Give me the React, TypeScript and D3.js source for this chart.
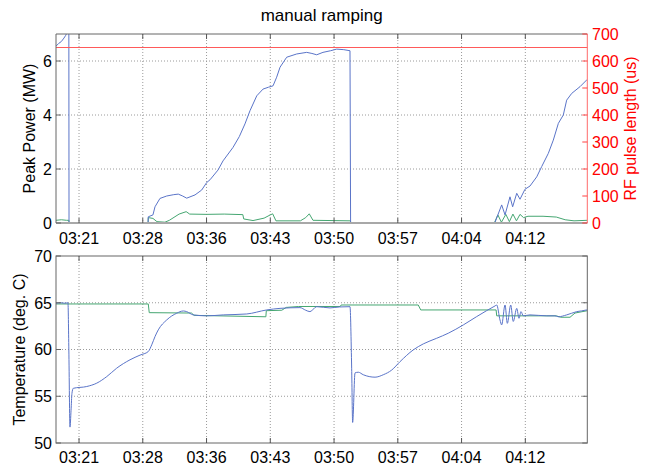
import React from "react";
import * as d3 from "d3";

const W = 647;
const H = 472;
const font = "'Liberation Sans', Arial, Helvetica, sans-serif";

// time axis (clock time)
const timeDomain = ["03:19:00", "04:19:00"];
const timeTicks = ["03:21:36", "03:28:48", "03:36:00", "03:43:12", "03:50:24", "03:57:36", "04:04:48", "04:12:00"];

const powerTicks = [0, 2, 4, 6];
const pulseTicks = [0, 100, 200, 300, 400, 500, 600, 700];
const tempTicks = [50, 55, 60, 65, 70];

// [minutes after 03:00, MW]
const forwardPower: [number, number][] = [
  [19.0, 6.55], [19.3, 6.65], [19.6, 6.72], [19.9, 6.85], [20.1, 6.95], [20.3, 7.1], [20.45, 7.4], [20.47, 0],
  [29.4, 0], [29.42, 0.23], [29.95, 0.3], [30.18, 0.6], [30.74, 0.91], [31.5, 1.0], [32.3, 1.05], [32.81, 1.07],
  [33.3, 1.0], [33.76, 0.92], [34.7, 1.04], [35.45, 1.22], [36.02, 1.5], [36.39, 1.6], [37.29, 1.96], [37.86, 2.3],
  [38.99, 2.8], [39.7, 3.2], [40.34, 3.67], [40.91, 4.16], [41.67, 4.71], [42.38, 4.96], [43.0, 5.03], [43.51, 5.08],
  [43.92, 5.4], [44.3, 5.77], [45.05, 6.14], [46.18, 6.26], [47.31, 6.32], [47.9, 6.28], [48.44, 6.23], [49.15, 6.32],
  [50.0, 6.38], [50.7, 6.44], [51.5, 6.42], [52.2, 6.38], [52.27, 0],
  [68.55, 0], [69.33, 0.67], [69.71, 0.3], [70.27, 0.97], [70.57, 0.6], [71.03, 1.1], [71.4, 0.88], [71.96, 1.25],
  [72.53, 1.37], [73.29, 1.71], [73.85, 2.09], [74.6, 2.58], [75.16, 3.07], [75.73, 3.69], [76.29, 4.0], [76.67, 4.55],
  [77.24, 4.8], [78.18, 5.05], [79.0, 5.32],
];

const reflectedPower: [number, number][] = [
  [19.0, 0.1], [19.6, 0.12], [20.2, 0.1], [20.46, 0.1], [20.47, 0], [29.4, 0], [29.42, 0.2], [29.95, 0.17],
  [30.4, 0.05], [31.3, 0.03], [31.8, 0.1], [32.9, 0.33], [33.7, 0.42], [34.1, 0.33], [36.0, 0.32], [38.0, 0.33],
  [40.1, 0.31], [40.2, 0.15], [41.25, 0.09], [42.5, 0.18], [43.2, 0.3], [43.47, 0.34], [43.84, 0.08], [46.6, 0.08],
  [47.2, 0.2], [47.6, 0.34], [48.02, 0.1], [52.26, 0.08], [52.27, 0], [68.5, 0], [68.9, 0.3], [69.3, 0.03],
  [69.8, 0.32], [70.2, 0.05], [70.6, 0.33], [71.0, 0.08], [71.4, 0.32], [71.8, 0.2], [72.3, 0.25], [74.0, 0.25],
  [75.5, 0.22], [76.5, 0.12], [77.5, 0.08], [79.0, 0.1],
];

// [minutes after 03:00, us]
const pulseLength: [number, number][] = [[19.0, 650], [79.0, 650]];

// [minutes after 03:00, deg C]
const cavityTemp: [number, number][] = [
  [19.0, 64.95], [19.5, 65.0], [20.0, 64.95], [20.35, 65.0], [20.45, 60.0], [20.58, 51.7], [20.7, 53.5], [20.8, 55.3],
  [20.95, 55.85], [22.47, 56.04], [23.6, 56.4], [24.73, 57.1], [25.85, 58.0], [27.36, 58.9], [28.49, 59.4], [29.42, 59.78],
  [29.81, 60.5], [30.18, 61.38], [30.55, 62.1], [31.5, 63.16], [32.63, 63.88], [33.38, 64.12], [33.76, 64.05], [34.5, 63.7],
  [36.02, 63.6], [37.89, 63.7], [40.54, 63.8], [42.79, 64.23], [44.3, 64.4], [46.55, 64.48], [47.2, 64.2], [47.68, 64.05],
  [48.44, 64.58], [49.94, 64.45], [51.0, 64.55], [52.2, 64.58], [52.39, 58.0], [52.5, 52.2], [52.77, 57.5], [53.14, 57.57],
  [53.7, 57.3], [55.03, 57.04], [55.96, 57.3], [56.91, 57.8], [57.85, 58.7], [59.35, 59.96], [60.48, 60.6], [61.99, 61.2],
  [63.3, 61.74], [65.0, 62.63], [66.51, 63.52], [67.64, 64.16], [68.58, 64.66], [68.77, 64.76], [69.14, 63.16], [69.33, 62.63],
  [69.71, 64.76], [69.97, 62.8], [70.35, 64.76], [70.64, 63.0], [71.03, 64.4], [71.29, 63.34], [71.51, 64.05], [71.77, 63.6],
  [72.53, 63.7], [74.41, 63.6], [75.35, 63.6], [75.73, 63.5], [76.67, 63.7], [77.8, 64.05], [78.93, 64.23], [79.0, 64.25],
];

const setTemp: [number, number][] = [
  [19.0, 64.87], [29.42, 64.87], [29.53, 63.94], [34.3, 63.9], [34.6, 63.65], [42.7, 63.5], [42.75, 64.15], [44.5, 64.2],
  [45.0, 64.5], [46.4, 64.6], [51.1, 64.6], [51.2, 64.76], [59.91, 64.76], [60.19, 64.23], [68.7, 64.23], [68.77, 63.6],
  [75.5, 63.6], [76.0, 63.45], [77.05, 63.45], [77.61, 63.9], [79.0, 64.15],
];

const parseTime = d3.timeParse("%H:%M:%S");
const base = parseTime("03:00:00") as Date;
const at = (m: number) => new Date(+base + m * 60000);
const fmt = d3.timeFormat("%H:%M");

const blue = "#5a74c8";
const green = "#45a671";
const red = "#ff0000";
const axisGray = "#666";
const gridGray = "#9a9a9a";

const left = 56;
const right = 587.3;
const top1 = 34;
const bottom1 = 223;
const top2 = 256;
const bottom2 = 443;

export default function App() {
  const x = d3.scaleTime().domain(timeDomain.map((t) => parseTime(t) as Date)).range([left, right]);
  const yPow = d3.scaleLinear().domain([0, 7]).range([bottom1, top1]);
  const yPulse = d3.scaleLinear().domain([0, 700]).range([bottom1, top1]);
  const yTemp = d3.scaleLinear().domain([50, 70]).range([bottom2, top2]);
  const ticks = timeTicks.map((t) => parseTime(t) as Date);

  const lineOf = (y: d3.ScaleLinear<number, number>, curve: d3.CurveFactory) =>
    d3.line<[number, number]>().x((d) => x(at(d[0]))).y((d) => y(d[1])).curve(curve);

  const powLine = lineOf(yPow, d3.curveLinear);
  const tempSmooth = lineOf(yTemp, d3.curveMonotoneX);
  const tempLine = lineOf(yTemp, d3.curveLinear);

  const tl = 5; // tick length

  const xGrid = (t0: number, t1: number) =>
    ticks.map((t, i) => (
      <line key={"g" + i} x1={x(t)} x2={x(t)} y1={t0} y2={t1} stroke={gridGray} strokeDasharray="1 2" strokeWidth={1} />
    ));
  const xTickMarks = (t0: number, t1: number, color: string) =>
    ticks.map((t, i) => (
      <g key={"t" + i}>
        <line x1={x(t)} x2={x(t)} y1={t0} y2={t0 + tl} stroke={color} />
        <line x1={x(t)} x2={x(t)} y1={t1} y2={t1 - tl} stroke={color} />
      </g>
    ));
  const xLabels = (baseline: number) =>
    ticks.map((t, i) => (
      <text key={"l" + i} x={x(t)} y={baseline} textAnchor="middle" fontSize={16} fill="#000">
        {fmt(t)}
      </text>
    ));

  return (
    <div style={{ position: "absolute", left: 0, top: 0 }}>
      <svg width={W} height={H} fontFamily={font} style={{ display: "block", background: "#fff" }}>
        <defs>
          <clipPath id="clipTop">
            <rect x={left} y={top1} width={right - left} height={bottom1 - top1} />
          </clipPath>
          <clipPath id="clipBottom">
            <rect x={left} y={top2} width={right - left} height={bottom2 - top2} />
          </clipPath>
        </defs>

        <text x={(left + right) / 2} y={21} textAnchor="middle" fontSize={17}>
          manual ramping
        </text>

        {/* ---------- top axes ---------- */}
        {xGrid(top1, bottom1)}
        {powerTicks.filter((v) => v > 0).map((v) => (
          <line key={"pg" + v} x1={left} x2={right} y1={yPow(v)} y2={yPow(v)} stroke={gridGray} strokeDasharray="1 2" />
        ))}
        <g clipPath="url(#clipTop)" fill="none">
          <path d={powLine(reflectedPower) || ""} stroke={green} strokeWidth={1} />
          <path d={powLine(forwardPower) || ""} stroke={blue} strokeWidth={1} />
        </g>
        {pulseLength.slice(1).map((d, i) => (
          <line
            key={"pl" + i}
            x1={x(at(pulseLength[i][0]))}
            x2={x(at(d[0]))}
            y1={yPulse(pulseLength[i][1])}
            y2={yPulse(d[1])}
            style={{ stroke: "#ff5a5a", strokeWidth: 1.2 }}
          />
        ))}
        <line x1={left} x2={right} y1={top1} y2={top1} stroke={axisGray} />
        <line x1={left} x2={right} y1={bottom1} y2={bottom1} stroke="#a8a8a8" strokeWidth={2} />
        <line x1={left} x2={left} y1={top1} y2={bottom1} stroke={axisGray} />
        <line x1={right} x2={right} y1={top1} y2={bottom1} style={{ stroke: "#ff6b6b" }} />
        {xTickMarks(top1, bottom1, "#555")}
        {powerTicks.map((v) => (
          <g key={"pt" + v}>
            <line x1={left} x2={left + tl} y1={yPow(v)} y2={yPow(v)} stroke={axisGray} />
            <text x={52} y={yPow(v)} dy="0.36em" textAnchor="end" fontSize={16}>
              {v}
            </text>
          </g>
        ))}
        {pulseTicks.map((v) => (
          <g key={"rt" + v}>
            <line x1={right - tl} x2={right} y1={yPulse(v)} y2={yPulse(v)} style={{ stroke: "#ff4040" }} />
            <text x={592} y={yPulse(v)} dy="0.36em" textAnchor="start" fontSize={16} fill={red}>
              {v}
            </text>
          </g>
        ))}
        {xLabels(244)}
        <text transform={`translate(34.5,${(top1 + bottom1) / 2}) rotate(-90)`} textAnchor="middle" fontSize={16}>
          Peak Power (MW)
        </text>
        <text transform={`translate(636,${(top1 + bottom1) / 2}) rotate(-90)`} textAnchor="middle" fontSize={16} fill={red}>
          RF pulse length (us)
        </text>

        {/* ---------- bottom axes ---------- */}
        {xGrid(top2, bottom2)}
        {tempTicks.filter((v) => v > 50 && v < 70).map((v) => (
          <line key={"tg" + v} x1={left} x2={right} y1={yTemp(v)} y2={yTemp(v)} stroke={gridGray} strokeDasharray="1 2" />
        ))}
        <g clipPath="url(#clipBottom)" fill="none">
          <path d={tempLine(setTemp) || ""} stroke={green} strokeWidth={1} />
          <path d={tempSmooth(cavityTemp) || ""} stroke={blue} strokeWidth={1} />
        </g>
        <rect x={left} y={top2} width={right - left} height={bottom2 - top2} fill="none" stroke={axisGray} />
        {xTickMarks(top2, bottom2, "#555")}
        {tempTicks.map((v) => (
          <g key={"tt" + v}>
            <line x1={left} x2={left + tl} y1={yTemp(v)} y2={yTemp(v)} stroke={axisGray} />
            <line x1={right - tl} x2={right} y1={yTemp(v)} y2={yTemp(v)} stroke={axisGray} />
            <text x={52} y={yTemp(v)} dy="0.36em" textAnchor="end" fontSize={16}>
              {v}
            </text>
          </g>
        ))}
        {xLabels(463)}
        <text transform={`translate(24.5,${(top2 + bottom2) / 2}) rotate(-90)`} textAnchor="middle" fontSize={16}>
          Temperature (deg. C)
        </text>
      </svg>
    </div>
  );
}
